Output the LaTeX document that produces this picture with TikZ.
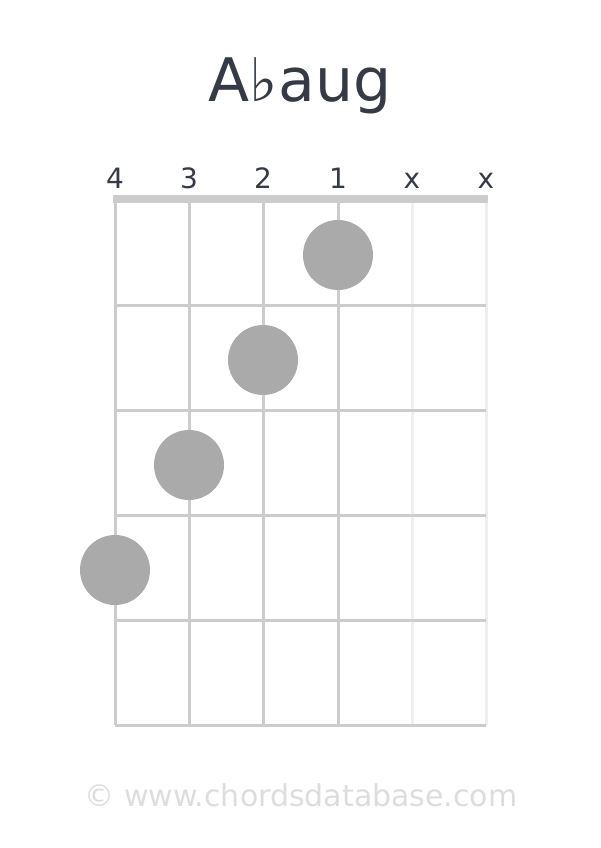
\documentclass[tikz,border=0pt]{standalone}
\usepackage{fontspec}
\setmainfont{DejaVu Sans}
\usepackage{xcolor}
\usetikzlibrary{positioning}

\definecolor{titlegray}{HTML}{353A45}
\definecolor{gridgray}{HTML}{CCCCCC}
\definecolor{mutedgray}{HTML}{EEEEEE}
\definecolor{dotgray}{HTML}{AAAAAA}
\definecolor{footgray}{HTML}{DDDDDD}

\begin{document}
\begin{tikzpicture}[
    x=1pt, y=-1pt,
    gridline/.style={draw=gridgray, line width=3pt},
    muted/.style={draw=mutedgray, line width=3pt},
    finger/.style={circle, fill=dotgray, minimum size=70pt, inner sep=0pt},
    strlabel/.style={anchor=base, text=titlegray, font=\fontsize{28}{30}\selectfont}
]
\useasboundingbox (0,0) rectangle (600,848);

% Title
\node[anchor=base, text=titlegray, font=\fontsize{60}{70}\selectfont] (title) at (300,102) {A♭aug};

% Strings
\draw[gridline] (115,199) -- (115,725);
\draw[gridline] (189,199) -- (189,725);
\draw[gridline] (263,199) -- (263,725);
\draw[gridline] (338,199) -- (338,725);
\draw[muted] (412,199) -- (412,725);
\draw[muted] (486,199) -- (486,725);

% Frets
\draw[gridline] (115,305) -- (486,305);
\draw[gridline] (115,410) -- (486,410);
\draw[gridline] (115,515) -- (486,515);
\draw[gridline] (115,620) -- (486,620);
\draw[gridline] (115,725) -- (486,725);

% Nut
\draw[draw=gridgray, line width=8pt] (113,199) -- (488,199);

% String labels
\node[strlabel] (s6) at (115,188) {4};
\node[strlabel] (s5) at (189,188) {3};
\node[strlabel] (s4) at (263,188) {2};
\node[strlabel] (s3) at (338,188) {1};
\node[strlabel] (s2) at (412,188) {x};
\node[strlabel] (s1) at (486,188) {x};

% Fingers
\node[finger] (f1) at (338,255) {};
\node[finger] (f2) at (263,360) {};
\node[finger] (f3) at (189,465) {};
\node[finger] (f4) at (115,570) {};

% Footer
\node[anchor=base, text=footgray, font=\fontsize{30}{32}\selectfont] (foot) at (301,806) {© www.chordsdatabase.com};
\end{tikzpicture}
\end{document}
